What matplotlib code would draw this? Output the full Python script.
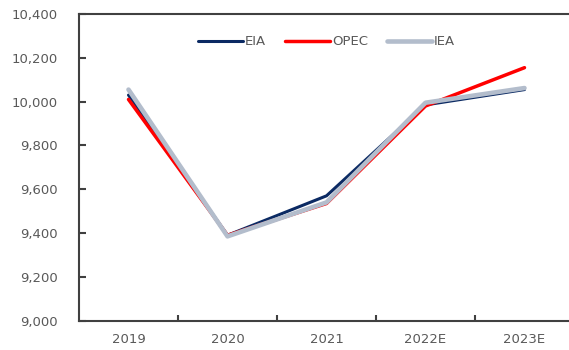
import matplotlib
matplotlib.use("Agg")
import matplotlib.pyplot as plt
from matplotlib.ticker import FuncFormatter, FixedLocator

# Forecast values by agency
years = ["2019", "2020", "2021", "2022E", "2023E"]
eia = [10030, 9390, 9570, 9985, 10055]
opec = [10010, 9390, 9535, 9980, 10155]
iea = [10055, 9385, 9540, 9995, 10062]

y_ticks = [9000, 9200, 9400, 9600, 9800, 10000, 10200, 10400]

text_color = "#595959"
spine_color = "#404040"

fig = plt.figure(figsize=(5.69, 3.5), dpi=100)
ax = fig.add_axes([79 / 569, (350 - 320.7) / 350, 495 / 569, 306.7 / 350])

x = list(range(len(years)))
ax.plot(x, eia, color="#0B2A63", lw=2.2, solid_capstyle="round", label="EIA", zorder=3)
ax.plot(x, opec, color="#FF0000", lw=2.5, solid_capstyle="round", label="OPEC", zorder=4)
ax.plot(x, iea, color="#B3BDCC", lw=3.3, solid_capstyle="round", label="IEA", zorder=5)

ax.set_xlim(-0.5, len(years) - 0.5)
ax.set_ylim(9000, 10400)
ax.set_yticks(y_ticks)
ax.yaxis.set_major_formatter(FuncFormatter(lambda v, p: f"{int(v):,}"))

ax.set_xticks(x)
ax.set_xticklabels(years)
ax.xaxis.set_minor_locator(FixedLocator([i + 0.5 for i in x]))

for side in ("left", "bottom", "top"):
    ax.spines[side].set_color(spine_color)
    ax.spines[side].set_linewidth(1.5)
ax.spines["right"].set_visible(False)

ax.tick_params(axis="y", direction="in", length=5, width=1.5, color=spine_color,
               labelsize=9.5, labelcolor=text_color, pad=15)
ax.tick_params(axis="x", which="major", length=0, labelsize=9.5,
               labelcolor=text_color, pad=9)
ax.tick_params(axis="x", which="minor", direction="in", length=4, width=1.5,
               color=spine_color)

leg = ax.legend(loc="center", bbox_to_anchor=(0.5, 0.909), ncol=3, frameon=False,
                handlelength=3.4, handletextpad=0.2, columnspacing=1.4,
                fontsize=9.5)
for t in leg.get_texts():
    t.set_color(text_color)

fig.savefig("out.png", dpi=100)
